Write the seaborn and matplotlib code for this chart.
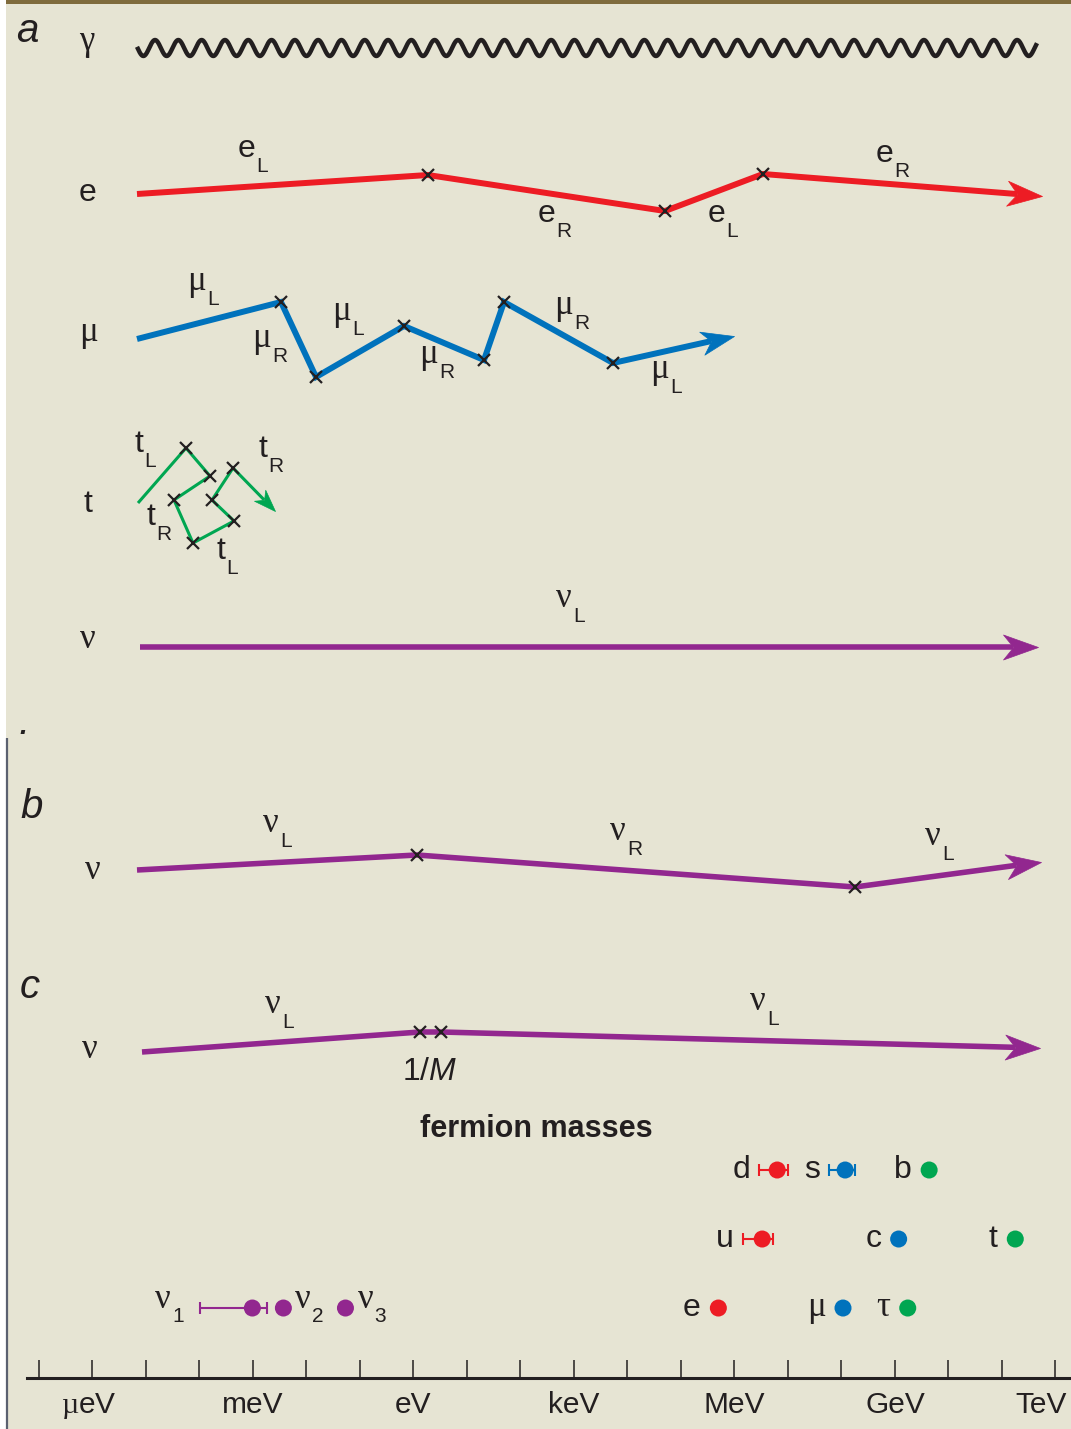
import numpy as np
import pandas as pd
import matplotlib
matplotlib.use("Agg")
import matplotlib.pyplot as plt
from matplotlib.patches import Rectangle
from matplotlib.path import Path
from matplotlib.markers import MarkerStyle
from matplotlib.transforms import ScaledTranslation, Affine2D
import seaborn as sns

# ---------------------------------------------------------------------------
# Sketch canvas (x to the right, y downward): propagation of each particle
# ---------------------------------------------------------------------------
photon_x_start, photon_x_end, photon_row = 137, 1037, 48

electron_x = [137, 428, 665, 763, 1042]
electron_y = [194, 175, 211, 174, 196]
electron_tags = ["e|L", "e|R", "e|L", "e|R"]
electron_tag_x = [255, 555, 725, 893]
electron_tag_y = [157, 222, 222, 162]

muon_x = [137, 281, 316, 404, 484, 504, 613, 734]
muon_y = [339, 302, 377, 326, 360, 302, 363, 336]
muon_tags = ["μ|L", "μ|R", "μ|L", "μ|R", "μ|R", "μ|L"]
muon_tag_x = [206, 271, 351, 438, 573, 669]
muon_tag_y = [290, 347, 320, 363, 314, 378]

top_x = [138, 186, 210, 174, 193, 234, 212, 233, 275]
top_y = [503, 448, 476, 500, 543, 521, 500, 468, 511]
top_tags = ["t|L", "t|R", "t|R", "t|L"]
top_tag_x = [143, 267, 155, 225]
top_tag_y = [452, 457, 525, 559]

nu_a_x = [140, 1038]
nu_a_y = [647, 647]
nu_a_tags = ["ν|L"]
nu_a_tag_x = [572]
nu_a_tag_y = [607]

nu_b_x = [137, 417, 855, 1041]
nu_b_y = [870, 855, 887, 862]
nu_b_tags = ["ν|L", "ν|R", "ν|L"]
nu_b_tag_x = [279, 626, 941]
nu_b_tag_y = [832, 840, 845]

nu_c_x = [142, 420, 441, 1040]
nu_c_y = [1052, 1032, 1032, 1048]
nu_c_tags = ["ν|L", "ν|L"]
nu_c_tag_x = [281, 766]
nu_c_tag_y = [1013, 1010]

row_names = ["γ", "e", "μ", "t", "ν", "ν", "ν"]
row_name_x = [87, 87, 88, 88, 88, 93, 90]
row_name_y = [50, 201, 341, 512, 648, 879, 1058]

panel_names = ["a", ".", "b", "c"]
panel_x = [27, 24, 32, 30]
panel_y = [42, 734, 818, 998]

# ---------------------------------------------------------------------------
# Fermion masses, log10(m / eV)
# ---------------------------------------------------------------------------
lepton_names = ["e", "μ", "τ"]
lepton_log_mass = [5.70, 8.03, 9.24]
up_names = ["u", "c", "t"]
up_log_mass = [6.52, 9.07, 11.25]
down_names = ["d", "s", "b"]
down_log_mass = [6.80, 8.07, 9.64]
neutrino_subscripts = ["1", "2", "3"]
neutrino_log_mass = [-3.01, -2.43, -1.27]

# uncertainty ranges (log10 eV) for the light quarks and the lightest neutrino
range_names = ["u", "d", "s", "ν1"]
range_low = [6.16, 6.46, 7.77, -3.99]
range_high = [6.72, 7.00, 8.26, -2.74]

energy_tick_values = list(range(-7, 13))
energy_unit_labels = {-6: r"$\mathrm{µ}$eV", -3: "meV", 0: "eV", 3: "keV",
                      6: "MeV", 9: "GeV", 12: "TeV"}

# ---------------------------------------------------------------------------
INK = "#231f20"
BEIGE = "#e6e4d3"
OLIVE = "#7f6b3d"
EDGE = "#5b6170"
RED = "#ed1c24"
BLUE = "#0072bc"
GREEN = "#00a651"
PURPLE = "#92278f"

SANS = ["Liberation Sans", "DejaVu Sans"]
SERIF = ["Liberation Serif", "DejaVu Serif"]
GREEK = set("γμνστ")

sns.set_theme(style="white")
plt.rcParams["font.family"] = SANS
plt.rcParams["mathtext.fontset"] = "custom"
plt.rcParams["mathtext.rm"] = "Liberation Serif"
plt.rcParams["mathtext.it"] = "Liberation Sans:italic"
plt.rcParams["text.color"] = INK

W, H = 1071, 1429
fig = plt.figure(figsize=(W / 100, H / 100), dpi=100, facecolor="white")

ax = fig.add_axes([0, 0, 1, 1])
ax.set_xlim(0, W)
ax.set_ylim(H, 0)
ax.axis("off")

# page background, top rule and left rule
ax.add_patch(Rectangle((6, 0), W - 6, H, facecolor=BEIGE, edgecolor="none", zorder=0))
ax.add_patch(Rectangle((6, 0), W - 6, 3.5, facecolor=OLIVE, edgecolor="none", zorder=1))
ax.plot([6.8, 6.8], [738, H], color=EDGE, lw=1.6, zorder=1, solid_capstyle="butt")

MAIN_SIZE = 23
GREEK_SIZE = 25
SUB_SIZE = 15

# swept-back arrow head, tip at the origin pointing along +x
HEAD = Path([(0, 0), (-1, 0.357), (-0.71, 0), (-1, -0.357), (0, 0)],
            [Path.MOVETO, Path.LINETO, Path.LINETO, Path.LINETO, Path.CLOSEPOLY])


def glyph_style(s):
    if s in GREEK:
        return dict(family=SERIF, fontsize=GREEK_SIZE)
    return dict(family=SANS, fontsize=MAIN_SIZE)


def tagged(x, y, text, color=INK):
    main, sub = text.split("|")
    ax.text(x, y, main, ha="right", va="baseline", color=color, zorder=5, **glyph_style(main))
    ax.annotate(sub, xy=(x, y), xytext=(1, -15), textcoords="offset pixels",
                ha="left", va="baseline", fontsize=SUB_SIZE, color=color, zorder=5)


def propagate(xs, ys, color, lw, head_px):
    # one canvas unit is one pixel, so the head geometry can be laid out in canvas units
    dx, dy = xs[-1] - xs[-2], ys[-1] - ys[-2]
    seg = np.hypot(dx, dy)
    notch = 0.71 * head_px
    end_x = xs[-1] - dx / seg * notch
    end_y = ys[-1] - dy / seg * notch
    df = pd.DataFrame({"x": list(xs[:-1]) + [end_x], "y": list(ys[:-1]) + [end_y]})
    sns.lineplot(data=df, x="x", y="y", sort=False, estimator=None, color=color,
                 lw=lw, solid_capstyle="butt", solid_joinstyle="miter", ax=ax,
                 legend=False, zorder=3)
    angle = np.degrees(np.arctan2(-dy, dx))
    head = MarkerStyle(HEAD, transform=Affine2D().rotate_deg(angle))
    ax.plot([xs[-1]], [ys[-1]], ls="none", marker=head, ms=2 * head_px * 0.72,
            mfc=color, mec=color, mew=0.5, zorder=3)
    if len(xs) > 2:
        ax.plot(xs[1:-1], ys[1:-1], ls="none", marker="x", ms=8, mew=1.6, color=INK, zorder=4)


# photon: a wavy line
wave_x = np.linspace(photon_x_start, photon_x_end, 4000)
wave_y = photon_row - 8 * np.sin(2 * np.pi * (wave_x - 149.2) / 23.3)
ax.plot(wave_x, wave_y, color=INK, lw=3.2, solid_capstyle="butt", zorder=3)

propagate(electron_x, electron_y, RED, 4.3, 35)
propagate(muon_x, muon_y, BLUE, 4.3, 33)
propagate(top_x, top_y, GREEN, 2.2, 22)
propagate(nu_a_x, nu_a_y, PURPLE, 4.0, 35)
propagate(nu_b_x, nu_b_y, PURPLE, 4.0, 35)
propagate(nu_c_x, nu_c_y, PURPLE, 4.0, 35)

for tags, tx, ty in [(electron_tags, electron_tag_x, electron_tag_y),
                     (muon_tags, muon_tag_x, muon_tag_y),
                     (top_tags, top_tag_x, top_tag_y),
                     (nu_a_tags, nu_a_tag_x, nu_a_tag_y),
                     (nu_b_tags, nu_b_tag_x, nu_b_tag_y),
                     (nu_c_tags, nu_c_tag_x, nu_c_tag_y)]:
    for t, x, y in zip(tags, tx, ty):
        tagged(x, y, t)

for name, x, y in zip(row_names, row_name_x, row_name_y):
    ax.text(x, y, name, ha="center", va="baseline", zorder=5, **glyph_style(name))

for name, x, y in zip(panel_names, panel_x, panel_y):
    ax.text(x, y, name, ha="center", va="baseline", fontsize=29, style="italic", zorder=5)

ax.text(430, 1080, r"1/$\mathit{M}$", ha="center", va="baseline",
        fontsize=MAIN_SIZE, zorder=5)
ax.text(536, 1137, "fermion masses", ha="center", va="baseline", fontsize=22,
        fontweight="bold", zorder=5)

# ---------------------------------------------------------------------------
# Mass scale panel
# ---------------------------------------------------------------------------
x_lo = (0 - 38.9) / 53.5 - 7
x_hi = (W - 38.9) / 53.5 - 7
bottom_px, top_px = 1378, 1150
mass_ax = fig.add_axes([0, (H - bottom_px) / H, 1, (bottom_px - top_px) / H])
mass_ax.patch.set_alpha(0)
mass_ax.set_xlim(x_lo, x_hi)
mass_ax.set_ylim(-1.014, 2.290)

rows = (["lepton"] * 3 + ["up"] * 3 + ["down"] * 3 + ["neutrino"] * 3)
row_index = {"neutrino": 0, "lepton": 0, "up": 1, "down": 2}
names = lepton_names + up_names + down_names + ["ν1", "ν2", "ν3"]
colours = ["g1", "g2", "g3"] * 3 + ["nu"] * 3
masses = pd.DataFrame({
    "name": names,
    "log_mass": lepton_log_mass + up_log_mass + down_log_mass + neutrino_log_mass,
    "family": rows,
    "generation": colours,
})
masses["row"] = masses["family"].map(row_index)
palette = {"g1": RED, "g2": BLUE, "g3": GREEN, "nu": PURPLE}

ranges = pd.DataFrame({"name": range_names, "low": range_low, "high": range_high})
ranges = ranges.merge(masses, on="name")
for _, r in ranges.iterrows():
    mass_ax.errorbar(r["log_mass"], r["row"],
                     xerr=[[r["log_mass"] - r["low"]], [r["high"] - r["log_mass"]]],
                     fmt="none", ecolor=palette[r["generation"]], elinewidth=1.5,
                     capsize=4.5, capthick=1.5, zorder=2)

sns.scatterplot(data=masses, x="log_mass", y="row", hue="generation", palette=palette,
                s=150, linewidth=0, legend=False, ax=mass_ax, zorder=3)

low_of = dict(zip(range_names, range_low))
for _, r in masses[masses["family"] != "neutrino"].iterrows():
    if r["name"] in low_of:
        anchor, dx = low_of[r["name"]], -9
    else:
        anchor, dx = r["log_mass"], -17.5
    mass_ax.annotate(r["name"], xy=(anchor, r["row"]), xytext=(dx, -8),
                     textcoords="offset pixels", ha="right", va="baseline",
                     **glyph_style(r["name"]))

# neutrino labels with subscripts
nu_rows = masses[masses["family"] == "neutrino"].reset_index(drop=True)
for i, r in nu_rows.iterrows():
    sub = neutrino_subscripts[i]
    if r["name"] in low_of:
        anchor = low_of[r["name"]]
        mass_ax.annotate("ν", xy=(anchor, r["row"]), xytext=(-29, 0), textcoords="offset pixels",
                         ha="right", va="baseline", **glyph_style("ν"))
        mass_ax.annotate(sub, xy=(anchor, r["row"]), xytext=(-28, -14), textcoords="offset pixels",
                         ha="left", va="baseline", fontsize=SUB_SIZE)
    else:
        mass_ax.annotate("ν", xy=(r["log_mass"], r["row"]), xytext=(12, 0),
                         textcoords="offset pixels", ha="left", va="baseline", **glyph_style("ν"))
        mass_ax.annotate(sub, xy=(r["log_mass"], r["row"]), xytext=(29, -14),
                         textcoords="offset pixels", ha="left", va="baseline", fontsize=SUB_SIZE)

for side in ["top", "left", "right"]:
    mass_ax.spines[side].set_visible(False)
mass_ax.spines["bottom"].set_color(INK)
mass_ax.spines["bottom"].set_linewidth(2.2)
mass_ax.spines["bottom"].set_bounds((27 - 38.9) / 53.5 - 7, x_hi)
mass_ax.set_yticks([])
mass_ax.set_xticks(energy_tick_values)
mass_ax.set_xticklabels([energy_unit_labels.get(v, "") for v in energy_tick_values])
mass_ax.tick_params(axis="x", bottom=True, direction="in", length=13, width=1.1,
                    color=INK, pad=9.4, labelsize=21.5, labelcolor=INK)
mass_ax.set_xlabel("")
mass_ax.set_ylabel("")
for lab in mass_ax.get_xticklabels():
    if lab.get_text() == "TeV":
        lab.set_transform(lab.get_transform() + ScaledTranslation(-0.14, 0, fig.dpi_scale_trans))
    if "eV" in lab.get_text() and "µ" in lab.get_text():
        lab.set_transform(lab.get_transform() + ScaledTranslation(-0.04, 0, fig.dpi_scale_trans))

fig.savefig("out.png", dpi=100, facecolor="white")
